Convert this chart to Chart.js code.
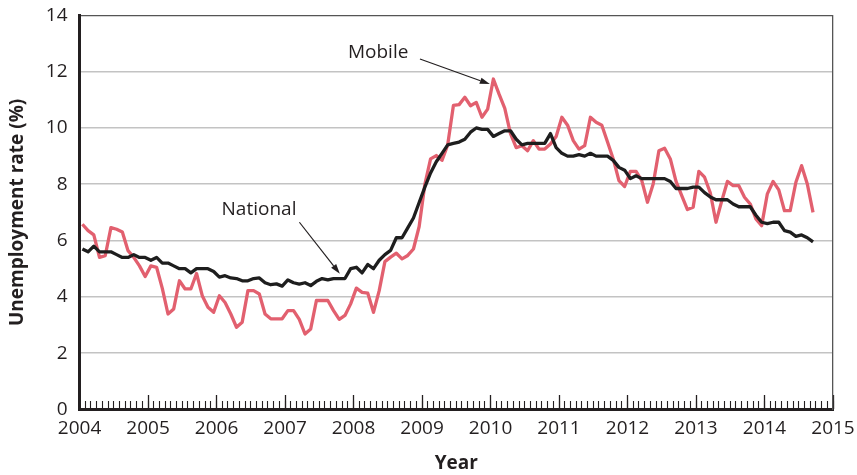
<!DOCTYPE html>
<html>
<head>
<meta charset="utf-8">
<script src="https://cdn.jsdelivr.net/npm/chart.js@4.4.1/dist/chart.umd.min.js"></script>
<style>
html,body{margin:0;padding:0;background:#fff;}
#wrap{width:857px;height:475px;position:relative;}
</style>
</head>
<body>
<div id="wrap"><canvas id="c" width="857" height="475"></canvas></div>
<script>
// ---- data (monthly, Jan 2004 – Sep 2014) ----
const startYear = 2004;
const yearTicks = [2004, 2005, 2006, 2007, 2008, 2009, 2010, 2011, 2012, 2013, 2014, 2015];
const yTicks = [0, 2, 4, 6, 8, 10, 12, 14];
const seriesNames = ['National', 'Mobile'];

const mobile = [
  6.58, 6.35, 6.2, 5.4, 5.46, 6.46, 6.4, 6.3, 5.64, 5.4, 5.1, 4.72,
  5.1, 5.05, 4.3, 3.39, 3.57, 4.57, 4.28, 4.28, 4.83, 4.04, 3.63, 3.45,
  4.04, 3.8, 3.39, 2.92, 3.1, 4.22, 4.22, 4.1, 3.39, 3.22, 3.22, 3.22,
  3.51, 3.51, 3.2, 2.68, 2.86, 3.87, 3.87, 3.87, 3.51, 3.2, 3.34, 3.75,
  4.31, 4.16, 4.13, 3.45, 4.22, 5.25, 5.41, 5.55, 5.35, 5.47, 5.7, 6.5,
  8.0, 8.9, 9.02, 8.85, 9.4, 10.8, 10.83, 11.09, 10.79, 10.91, 10.38, 10.67,
  11.74, 11.2, 10.7, 9.8, 9.3, 9.37, 9.19, 9.55, 9.25, 9.25, 9.43, 9.7,
  10.38, 10.1, 9.55, 9.25, 9.37, 10.38, 10.2, 10.1, 9.5, 8.9, 8.13, 7.92,
  8.46, 8.46, 8.13, 7.36, 8.01, 9.19, 9.28, 8.9, 8.1, 7.6, 7.1, 7.18,
  8.46, 8.25, 7.7, 6.65, 7.4, 8.1, 7.95, 7.95, 7.54, 7.3, 6.77, 6.53,
  7.66, 8.1, 7.8, 7.06, 7.06, 8.07, 8.66, 8.01, 7.0
];

const national = [
  5.7, 5.6, 5.8, 5.6, 5.6, 5.6, 5.5, 5.4, 5.4, 5.5, 5.4, 5.4,
  5.3, 5.4, 5.2, 5.2, 5.1, 5.0, 5.0, 4.85, 5.0, 5.0, 5.0, 4.9,
  4.7, 4.75, 4.67, 4.65, 4.57, 4.57, 4.65, 4.67, 4.5, 4.43, 4.46, 4.38,
  4.6, 4.5, 4.45, 4.5, 4.4, 4.55, 4.65, 4.6, 4.65, 4.65, 4.65, 5.0,
  5.05, 4.85, 5.15, 5.0, 5.3, 5.5, 5.65, 6.1, 6.1, 6.45, 6.8, 7.35,
  7.9, 8.4, 8.8, 9.1, 9.4, 9.45, 9.5, 9.6, 9.85, 10.0, 9.95, 9.95,
  9.7, 9.8, 9.9, 9.9, 9.6, 9.4, 9.45, 9.45, 9.45, 9.45, 9.8, 9.3,
  9.1, 9.0, 9.0, 9.05, 9.0, 9.1, 9.0, 9.0, 9.0, 8.85, 8.6, 8.5,
  8.2, 8.3, 8.2, 8.2, 8.2, 8.2, 8.2, 8.1, 7.85, 7.85, 7.85, 7.9,
  7.9, 7.7, 7.55, 7.45, 7.45, 7.45, 7.3, 7.2, 7.2, 7.2, 6.9, 6.65,
  6.6, 6.65, 6.65, 6.35, 6.3, 6.15, 6.2, 6.1, 5.95
];

// callout labels (placed in data coordinates)
const callouts = [
  { text: 'Mobile',   tx: 2008.36, ty: 12.67, from: [2008.97, 12.45], to: [2009.99, 11.56] },
  { text: 'National', tx: 2006.62, ty: 7.10,  from: [2007.21, 6.65],  to: [2007.80, 4.82] }
];

// ---- helpers ----
const FONT = '"Open Sans", "Noto Sans", "DejaVu Sans", sans-serif';
const TEXT = '#231f20';
const toPoints = arr => arr.map((v, i) => ({ x: startYear + (i + 0.5) / 12, y: v }));
const monthTicks = [];
for (let y = yearTicks[0]; y < yearTicks[yearTicks.length - 1]; y++) {
  for (let m = 0; m < 12; m++) monthTicks.push(y + m / 12);
}
monthTicks.push(yearTicks[yearTicks.length - 1]);
const xMin = yearTicks[0], xMax = yearTicks[yearTicks.length - 1];

const calloutPlugin = {
  id: 'callouts',
  afterDatasetsDraw(chart) {
    const { ctx, scales: { x, y } } = chart;
    ctx.save();
    ctx.font = '19px ' + FONT;
    ctx.fillStyle = TEXT;
    ctx.textAlign = 'center';
    ctx.textBaseline = 'middle';
    callouts.forEach(c => {
      ctx.fillText(c.text, x.getPixelForValue(c.tx), y.getPixelForValue(c.ty));
      const x1 = x.getPixelForValue(c.from[0]), y1 = y.getPixelForValue(c.from[1]);
      const x2 = x.getPixelForValue(c.to[0]), y2 = y.getPixelForValue(c.to[1]);
      const ang = Math.atan2(y2 - y1, x2 - x1);
      const hl = 10, hw = 3.2;
      const bx = x2 - hl * Math.cos(ang), by = y2 - hl * Math.sin(ang);
      ctx.strokeStyle = TEXT;
      ctx.lineWidth = 1.2;
      ctx.beginPath();
      ctx.moveTo(x1, y1);
      ctx.lineTo(bx, by);
      ctx.stroke();
      ctx.beginPath();
      ctx.moveTo(x2, y2);
      ctx.lineTo(bx + hw * Math.sin(ang), by - hw * Math.cos(ang));
      ctx.lineTo(bx - hw * Math.sin(ang), by + hw * Math.cos(ang));
      ctx.closePath();
      ctx.fill();
    });
    ctx.restore();
  }
};

new Chart(document.getElementById('c'), {
  type: 'line',
  data: {
    datasets: [
      { label: seriesNames[0], data: toPoints(national), borderColor: '#1e1e1e', borderWidth: 3.3,
        pointRadius: 0, tension: 0, borderJoinStyle: 'round', fill: false },
      { label: seriesNames[1], data: toPoints(mobile), borderColor: '#e2606f', borderWidth: 3.3,
        pointRadius: 0, tension: 0, borderJoinStyle: 'round', fill: false }
    ]
  },
  options: {
    responsive: false,
    animation: false,
    devicePixelRatio: 1,
    layout: { padding: { left: 4, right: 24, top: 15, bottom: 0 } },
    plugins: { legend: { display: false }, tooltip: { enabled: false } },
    scales: {
      x: {
        type: 'linear', position: 'bottom', min: xMin, max: xMax,
        afterBuildTicks: s => { s.ticks = yearTicks.map(v => ({ value: v })); },
        ticks: { autoSkip: false, maxRotation: 0, color: TEXT, font: { family: FONT, size: 19 }, padding: 2,
                 callback: v => String(v) },
        grid: { drawOnChartArea: false, drawTicks: true, tickLength: 6, tickColor: 'rgba(0,0,0,0)' },
        border: { display: true, color: TEXT, width: 3 },
        title: { display: true, text: 'Year', color: TEXT, font: { family: FONT, size: 19, weight: 'bold' },
                 padding: { top: 10, bottom: 0 } }
      },
      xm: {
        type: 'linear', axis: 'x', position: { y: 0 }, min: xMin, max: xMax,
        afterBuildTicks: s => { s.ticks = monthTicks.map(v => ({ value: v })); },
        ticks: { display: false },
        grid: { display: true, drawOnChartArea: false, drawTicks: true, tickLength: -8, tickColor: TEXT, tickWidth: 1.1 },
        border: { display: false }
      },
      xy: {
        type: 'linear', axis: 'x', position: { y: 0 }, min: xMin, max: xMax,
        afterBuildTicks: s => { s.ticks = yearTicks.map(v => ({ value: v })); },
        ticks: { display: false },
        grid: { display: true, drawOnChartArea: false, drawTicks: true, tickLength: -14, tickColor: TEXT, tickWidth: 1.3 },
        border: { display: false }
      },
      y: {
        type: 'linear', position: 'left', min: 0, max: 14,
        afterBuildTicks: s => { s.ticks = yTicks.map(v => ({ value: v })); },
        ticks: { color: TEXT, font: { family: FONT, size: 19 }, padding: 4 },
        grid: {
          drawTicks: true, tickLength: 8, tickColor: 'rgba(0,0,0,0)',
          color: c => c.tick.value === 14 ? '#555555' : (c.tick.value === 0 ? 'rgba(0,0,0,0)' : '#c3c3c3'),
          lineWidth: c => c.tick.value === 14 ? 1.3 : 1.6
        },
        border: { display: true, color: TEXT, width: 3 },
        title: { display: true, text: 'Unemployment rate (%)', color: TEXT,
                 font: { family: FONT, size: 19, weight: 'bold' }, padding: { top: 2, bottom: 13 } }
      },
      y2: {
        type: 'linear', position: 'right', min: 0, max: 14,
        ticks: { display: false },
        grid: { display: false, drawTicks: false },
        border: { display: true, color: '#555555', width: 1.3 }
      }
    }
  },
  plugins: [calloutPlugin]
});
</script>
</body>
</html>
